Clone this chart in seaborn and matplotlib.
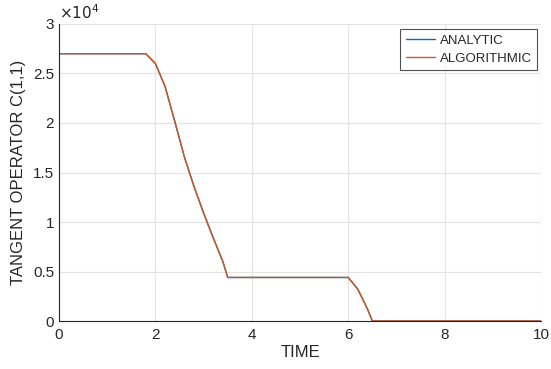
import matplotlib
matplotlib.use("Agg")
import matplotlib.pyplot as plt
import seaborn as sns
import pandas as pd
import numpy as np

time = [0, 0.5, 1.0, 1.5, 1.8, 2.0, 2.2, 2.4, 2.6, 2.8, 3.0, 3.2, 3.4, 3.5,
        4.0, 4.5, 5.0, 5.5, 6.0, 6.2, 6.4, 6.5, 7.0, 8.0, 9.0, 10.0]
analytic = [2.7e4, 2.7e4, 2.7e4, 2.7e4, 2.7e4, 2.6e4, 2.37e4, 2.02e4, 1.66e4, 1.36e4,
            1.09e4, 0.84e4, 0.6e4, 0.44e4, 0.44e4, 0.44e4, 0.44e4, 0.44e4, 0.44e4,
            0.32e4, 0.12e4, 0, 0, 0, 0, 0]
algorithmic = list(analytic)

series_names = ["ANALYTIC", "ALGORITHMIC"]
colors = ["#0072BD", "#D95319"]

df = pd.DataFrame({
    "TIME": time * 2,
    "C": analytic + algorithmic,
    "series": [series_names[0]] * len(time) + [series_names[1]] * len(time),
})

sns.set_style("white")
plt.rcParams["font.family"] = ["Liberation Sans", "DejaVu Sans"]

fig = plt.figure(figsize=(5.51, 3.69), dpi=100)
ax = fig.add_axes([0.107, 0.130, 0.875, 0.805])

sns.lineplot(data=df, x="TIME", y="C", hue="series", palette=colors,
             hue_order=series_names, ax=ax, linewidth=1.0, sort=False)

ax.set_xlim(0, 10)
ax.set_ylim(0, 3e4)
ax.set_xticks([0, 2, 4, 6, 8, 10])
ax.set_yticks([0, 0.5e4, 1e4, 1.5e4, 2e4, 2.5e4, 3e4])
ax.set_yticklabels(["0", "0.5", "1", "1.5", "2", "2.5", "3"])
ax.grid(True, color="#e3e3e3", linewidth=0.8)
ax.set_axisbelow(True)
for s in ["top", "right"]:
    ax.spines[s].set_visible(False)
ax.spines["left"].set_color("#262626")
ax.spines["bottom"].set_color("#262626")
ax.spines["left"].set_linewidth(0.8)
ax.spines["bottom"].set_linewidth(0.8)
ax.tick_params(direction="in", length=4, width=0.8, colors="#262626",
               labelsize=11, labelcolor="#262626")
ax.tick_params(axis="x", pad=5)
ax.set_xlabel("TIME", fontsize=12, color="#262626", labelpad=2)
ax.set_ylabel("TANGENT OPERATOR C(1,1)", fontsize=12, color="#262626", labelpad=5)
ax.text(0.0, 1.005, r"$\times10^{4}$", transform=ax.transAxes, fontsize=11,
        color="#262626", ha="left", va="bottom")

leg = ax.legend(loc="upper right", fontsize=9.5, frameon=True, fancybox=False,
                edgecolor="#262626", borderpad=0.4, handlelength=2.2,
                handletextpad=0.4, labelspacing=0.45, bbox_to_anchor=(0.992, 0.982),
                borderaxespad=0.0)
leg.get_frame().set_linewidth(0.8)

fig.savefig("out.png", dpi=100)
